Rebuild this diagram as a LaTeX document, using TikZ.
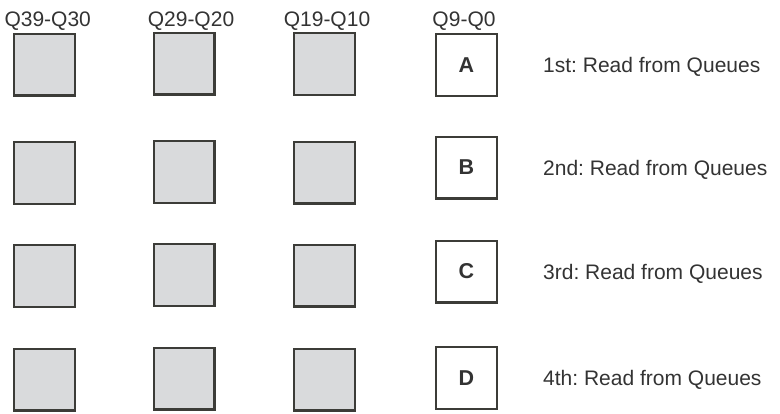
\documentclass[tikz,border=0pt]{standalone}
\usepackage{fontspec}
\setmainfont{Liberation Sans}
\definecolor{edge}{HTML}{3C3C38}
\definecolor{greyfill}{HTML}{D9DADC}
\definecolor{txt}{HTML}{333333}
\frenchspacing
\begin{document}
\begin{tikzpicture}[x=1pt,y=-1pt,
  qbox/.style={draw=edge,line width=2.2pt,minimum width=60.8pt,minimum height=61.8pt,inner sep=0pt},
  greybox/.style={qbox,fill=greyfill},
  letterbox/.style={qbox,fill=white,font=\fontsize{21.5}{24}\selectfont\bfseries,text=txt},
  toplabel/.style={anchor=base,inner sep=0pt,font=\fontsize{21}{24}\selectfont,text=txt},
  readlabel/.style={anchor=base west,inner sep=0pt,font=\fontsize{21}{24}\selectfont,text=txt}]
\useasboundingbox (0,0) rectangle (780,413);
% column labels
\node[toplabel] (l1) at (47.7,26.7) {Q39-Q30};
\node[toplabel] (l2) at (191,26.5) {Q29-Q20};
\node[toplabel] (l3) at (327,26.5) {Q19-Q10};
\node[toplabel] (l4) at (464,26) {Q9-Q0};
% grey boxes
\node[greybox] (g11) at (44.5,64.5) {};
\node[greybox] (g12) at (184,63.5) {};
\node[greybox] (g13) at (324.5,64) {};
\node[greybox] (g21) at (44.5,173) {};
\node[greybox] (g22) at (184,172) {};
\node[greybox] (g23) at (324.5,172.5) {};
\node[greybox] (g31) at (44.5,276) {};
\node[greybox] (g32) at (184,275) {};
\node[greybox] (g33) at (324.5,275.5) {};
\node[greybox] (g41) at (44.5,379.5) {};
\node[greybox] (g42) at (184,378.5) {};
\node[greybox] (g43) at (324.5,379.5) {};
% letter boxes
\node[letterbox] (A) at (466.5,65) {A};
\node[letterbox] (B) at (466.5,167.5) {B};
\node[letterbox] (C) at (466.5,271.5) {C};
\node[letterbox] (D) at (466.5,378) {D};
% read labels
\node[readlabel] (r1) at (543,72.5) {1st: Read from Queues};
\node[readlabel] (r2) at (543,175) {2nd: Read from Queues};
\node[readlabel] (r3) at (543,279) {3rd: Read from Queues};
\node[readlabel] (r4) at (543,385.5) {4th: Read from Queues};
\end{tikzpicture}
\end{document}
